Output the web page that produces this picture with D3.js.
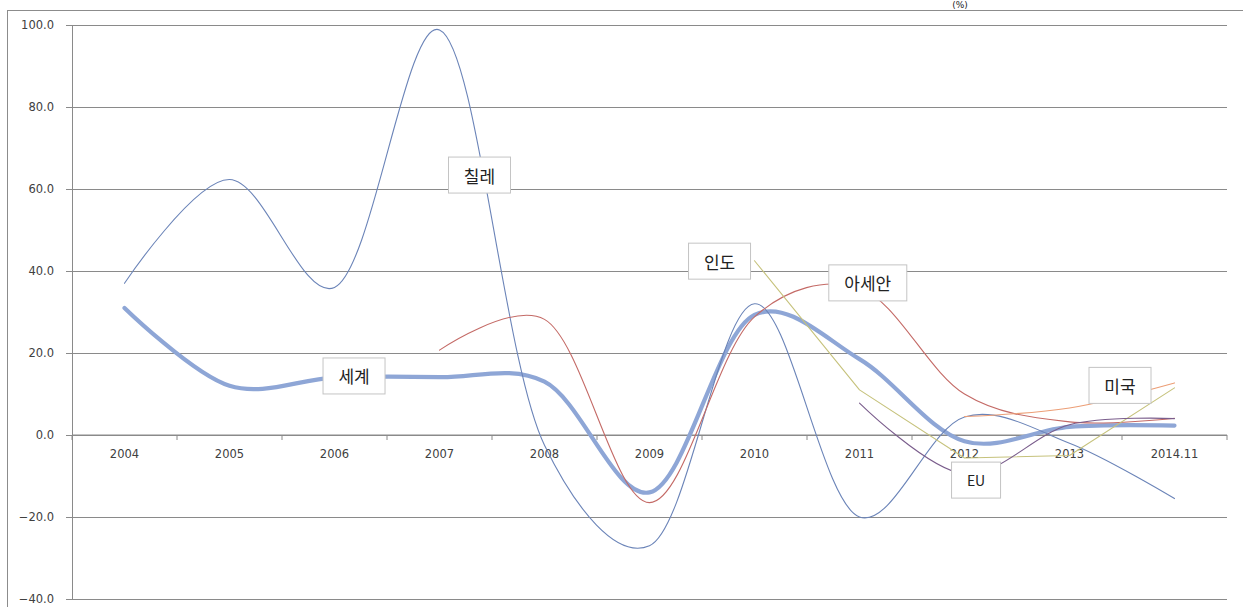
<!DOCTYPE html>
<html>
<head>
<meta charset="utf-8">
<script src="https://cdn.jsdelivr.net/npm/d3@7"></script>
<style>
  html, body { margin: 0; padding: 0; background: #ffffff; }
  svg { display: block; }
</style>
</head>
<body>
<svg id="chart" width="1243" height="607"></svg>
<script>
// ---- data ----
const categories = ["2004","2005","2006","2007","2008","2009","2010","2011","2012","2013","2014.11"];
const yTicks = [-40, -20, 0, 20, 40, 60, 80, 100];
const worldValues = [31.0, 12.0, 14.0, 14.1, 13.0, -14.0, 29.3, 18.5, -1.5, 2.0, 2.3];
const chileValues = [37.0, 62.3, 36.0, 98.8, -2.5, -27.0, 32.0, -20.0, 4.4, -2.0, -15.5];
const aseanValues = [null, null, null, 20.7, 28.2, -16.5, 28.8, 35.8, 10.0, 3.2, 4.1];
const indiaValues = [null, null, null, null, null, null, 42.5, 11.0, -5.6, -5.0, 11.5];
const usaValues   = [null, null, null, null, null, null, null, null, 4.5, 6.6, 12.7];
const euValues    = [null, null, null, null, null, null, null, 7.8, -9.5, 2.5, 4.0];
const seriesNames = ["세계", "칠레", "아세안", "인도", "미국", "EU"];
const titleText = "(%)";

// ---- layout / style ----
const W = 1243, H = 607;
const plot = { left: 72, right: 1227, top: 25, bottom: 599 };
const svg = d3.select("#chart");

const x = d3.scaleBand().domain(categories).range([plot.left, plot.right]).padding(0);
const y = d3.scaleLinear().domain([-40, 100]).range([plot.bottom, plot.top]);
const cx = c => x(c) + x.bandwidth() / 2;

const smooth = d3.curveCatmullRom.alpha(0.25);
const styles = {
  "세계":  { color: "#8ea6d6", width: 4.2, curve: smooth },
  "칠레":  { color: "#6b84b8", width: 1.1, curve: smooth },
  "아세안": { color: "#c46a66", width: 1.1, curve: smooth },
  "인도":  { color: "#c6c27c", width: 1.1, curve: d3.curveLinear },
  "미국":  { color: "#ec9e76", width: 1.1, curve: smooth },
  "EU":   { color: "#7a5d8c", width: 1.1, curve: smooth }
};
const valuesByName = {
  "세계": worldValues, "칠레": chileValues, "아세안": aseanValues,
  "인도": indiaValues, "미국": usaValues, "EU": euValues
};

// outer frame (cropped)
svg.append("rect")
  .attr("x", 7.5).attr("y", 10.5)
  .attr("width", W + 20).attr("height", H + 20)
  .attr("fill", "none").attr("stroke", "#8c8c8c").attr("stroke-width", 1);

// title remnant (kept fully visible)
svg.append("text")
  .attr("x", 960).attr("y", 8)
  .attr("text-anchor", "middle")
  .attr("font-family", "'DejaVu Sans', sans-serif")
  .attr("font-size", 9).attr("fill", "#222")
  .text(titleText);

// gridlines
const yAxisG = svg.append("g")
  .attr("transform", `translate(${plot.left},0)`)
  .call(d3.axisLeft(y).tickValues(yTicks).tickFormat(d3.format(".1f"))
        .tickSize(-(plot.right - plot.left)).tickSizeOuter(0).tickPadding(18));
yAxisG.select(".domain").remove();
yAxisG.selectAll(".tick line").attr("stroke", "#8a8a8a").attr("stroke-width", 1);
yAxisG.selectAll(".tick text")
  .attr("font-family", "'DejaVu Sans', sans-serif")
  .attr("font-size", 11.5).attr("fill", "#404040");

// small left ticks + vertical axis line
const yTickG = svg.append("g")
  .attr("transform", `translate(${plot.left},0)`)
  .call(d3.axisLeft(y).tickValues(yTicks).tickFormat("").tickSize(6).tickSizeOuter(0));
yTickG.selectAll("line, path").attr("stroke", "#8a8a8a");

// category axis at zero
const xTickG = svg.append("g")
  .attr("transform", `translate(0,${y(0)})`);
const boundaries = categories.map(c => x(c)).concat([plot.right]);
xTickG.selectAll("line.tk").data(boundaries).join("line")
  .attr("class", "tk")
  .attr("x1", d => d).attr("x2", d => d)
  .attr("y1", 0).attr("y2", 5)
  .attr("stroke", "#8a8a8a");
xTickG.append("line")
  .attr("x1", plot.left).attr("x2", plot.right)
  .attr("stroke", "#8a8a8a");
xTickG.selectAll("text").data(categories).join("text")
  .attr("x", d => cx(d)).attr("y", 23)
  .attr("text-anchor", "middle")
  .attr("font-family", "'DejaVu Sans', sans-serif")
  .attr("font-size", 11.5).attr("fill", "#404040")
  .text(d => d);

// lines
seriesNames.forEach(name => {
  const vals = valuesByName[name];
  const pts = categories.map((c, i) => ({ c, v: vals[i] })).filter(d => d.v !== null);
  const line = d3.line()
    .x(d => cx(d.c))
    .y(d => y(d.v))
    .curve(styles[name].curve);
  svg.append("path")
    .datum(pts)
    .attr("d", line)
    .attr("fill", "none")
    .attr("stroke", styles[name].color)
    .attr("stroke-width", styles[name].width)
    .attr("stroke-linejoin", "round")
    .attr("stroke-linecap", "round");
});

// series labels (boxes), anchored by category index offset and value
const step = x.step();
const labels = [
  { text: "세계",  xi: 2.186, v: 14.4,  size: 17 },
  { text: "칠레",  xi: 3.381, v: 63.4,  size: 17 },
  { text: "인도",  xi: 5.667, v: 42.4,  size: 17 },
  { text: "아세안", xi: 7.079, v: 37.1,  size: 17 },
  { text: "미국",  xi: 9.481, v: 12.1,  size: 17 },
  { text: "EU",   xi: 8.110, v: -11.0, size: 14 }
];
labels.forEach(l => {
  const px = cx(categories[0]) + l.xi * step;
  const py = y(l.v);
  const g = svg.append("g").attr("transform", `translate(${px},${py})`);
  const rect = g.append("rect");
  const t = g.append("text")
    .attr("text-anchor", "middle")
    .attr("dominant-baseline", "central")
    .attr("font-family", "'Noto Sans CJK KR', 'DejaVu Sans', sans-serif")
    .attr("font-size", l.size).attr("fill", "#222")
    .text(l.text);
  const tw = t.node().getComputedTextLength();
  const bw = Math.round(tw + 31), bh = 36;
  rect.attr("x", -bw / 2).attr("y", -bh / 2)
    .attr("width", bw).attr("height", bh)
    .attr("fill", "#ffffff").attr("stroke", "#c4c4c4").attr("stroke-width", 1);
});
</script>
</body>
</html>
